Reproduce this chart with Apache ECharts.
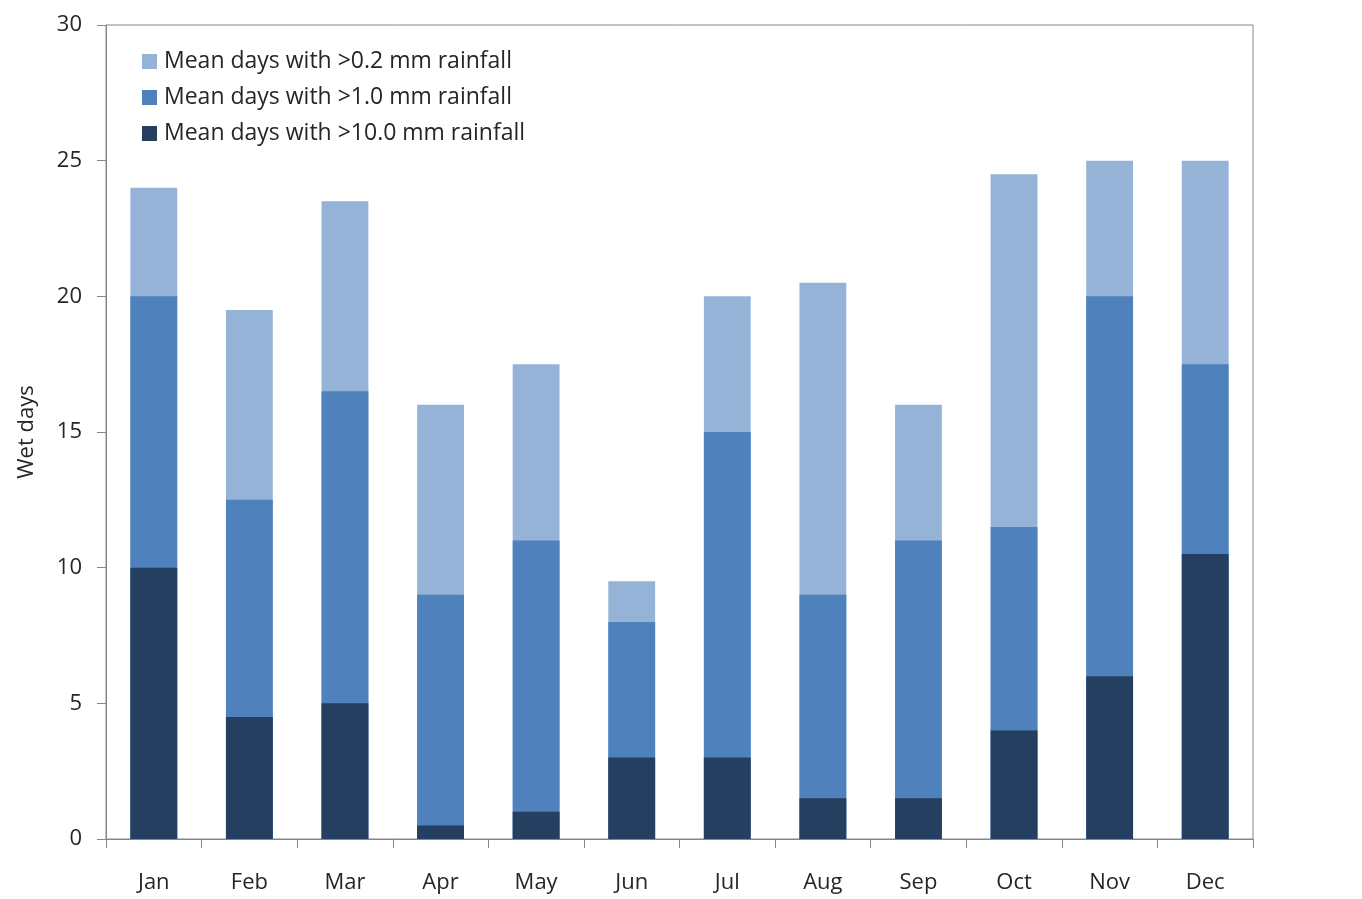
<!DOCTYPE html>
<html>
<head>
<meta charset="utf-8">
<script src="https://cdn.jsdelivr.net/npm/echarts@6/dist/echarts.min.js"></script>
<style>
html,body{margin:0;padding:0;background:#fff;}
#chart{width:1362px;height:899px;}
</style>
</head>
<body>
<div id="chart"></div>
<script>
const months = ['Jan','Feb','Mar','Apr','May','Jun','Jul','Aug','Sep','Oct','Nov','Dec'];
const seriesNames = ['Mean days with >0.2 mm rainfall','Mean days with >1.0 mm rainfall','Mean days with >10.0 mm rainfall'];
const days02 = [24, 19.5, 23.5, 16, 17.5, 9.5, 20, 20.5, 16, 24.5, 25, 25];
const days10 = [20, 12.5, 16.5, 9, 11, 8, 15, 9, 11, 11.5, 20, 17.5];
const days100 = [10, 4.5, 5, 0.5, 1, 3, 3, 1.5, 1.5, 4, 6, 10.5];
const yTicks = [0, 5, 10, 15, 20, 25, 30];

const colors = ['#95B3D7', '#4F81BD', '#243F60'];
const font = 'Open Sans';
const fs = 22;
const chart = echarts.init(document.getElementById('chart'));
chart.setOption({
  animation: false,
  textStyle: {fontFamily: font},
  grid: {left: 106, right: 109, top: 25, bottom: 60, show: true, borderColor: '#868686', borderWidth: 1, containLabel: false},
  legend: {
    data: seriesNames,
    orient: 'vertical',
    left: 137, top: 45,
    itemWidth: 15, itemHeight: 15, itemGap: 13,
    icon: 'rect',
    textStyle: {fontFamily: font, fontSize: 23, color: '#262626', padding: [0,0,0,2]}
  },
  xAxis: {
    type: 'category',
    data: months,
    axisLine: {lineStyle: {color: '#868686'}},
    axisTick: {show: true, length: 9, lineStyle: {color: '#868686'}},
    axisLabel: {fontSize: fs, color: '#262626', margin: 33, fontFamily: font}
  },
  yAxis: {
    type: 'value',
    min: yTicks[0], max: yTicks[yTicks.length-1], interval: 5,
    name: 'Wet days',
    nameLocation: 'middle',
    nameGap: 68,
    nameTextStyle: {fontSize: fs, color: '#262626', fontFamily: font},
    axisLine: {show: true, lineStyle: {color: '#868686'}},
    axisTick: {show: true, length: 9, lineStyle: {color: '#868686'}},
    splitLine: {show: false},
    axisLabel: {fontSize: fs, color: '#262626', margin: 24, fontFamily: font}
  },
  series: [
    {name: seriesNames[0], type: 'bar', data: days02, barWidth: '49%', barGap: '-100%', itemStyle: {color: colors[0]}, z: 1},
    {name: seriesNames[1], type: 'bar', data: days10, barWidth: '49%', barGap: '-100%', itemStyle: {color: colors[1]}, z: 2},
    {name: seriesNames[2], type: 'bar', data: days100, barWidth: '49%', barGap: '-100%', itemStyle: {color: colors[2]}, z: 3}
  ]
});
</script>
</body>
</html>
